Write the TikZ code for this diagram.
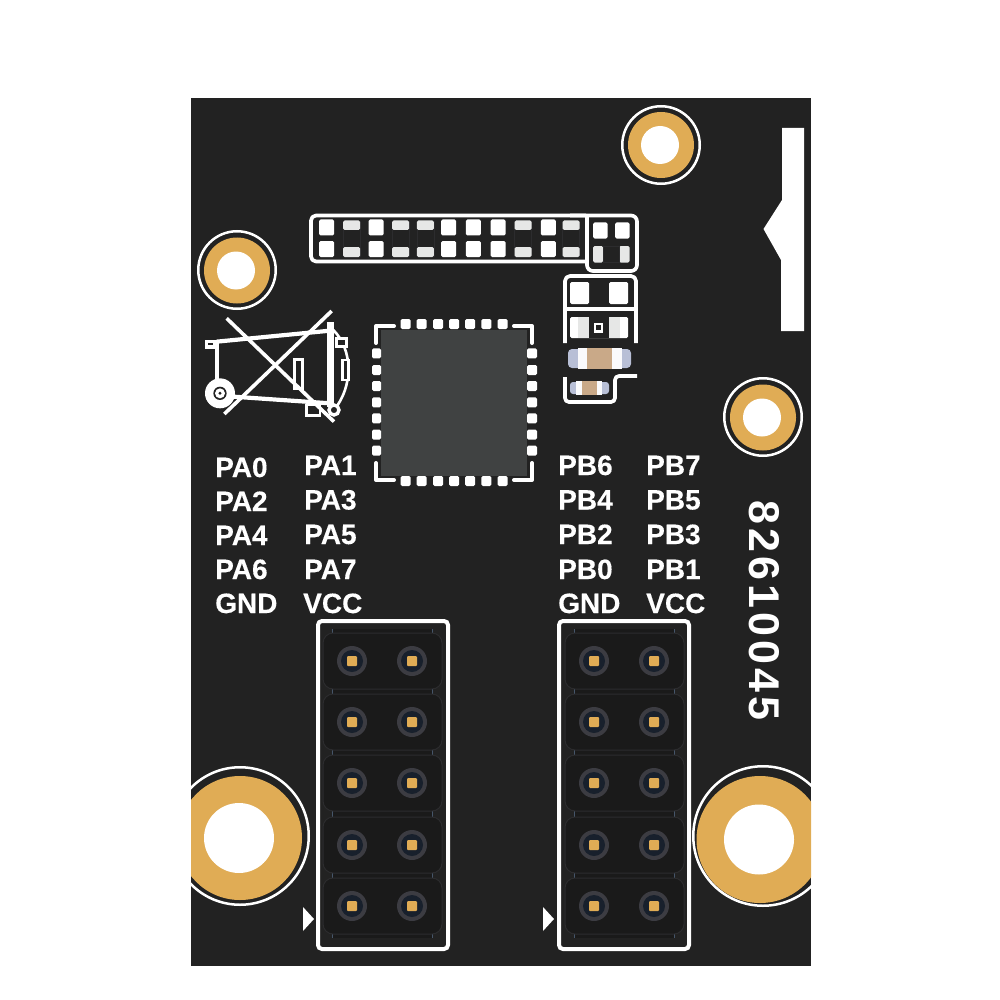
\documentclass[tikz,border=0pt]{standalone}
\usepackage{fontspec}
\setmainfont{Liberation Sans}[BoldFeatures={FakeBold=0.3}]
\newfontfamily\serialfont{Liberation Sans Bold}[LetterSpace=9.5]
\definecolor{board}{HTML}{222222}
\definecolor{gold}{HTML}{E0AC55}
\definecolor{chipbody}{HTML}{404242}
\definecolor{padgray}{HTML}{E6E7E6}
\definecolor{housing}{HTML}{1A1A1A}
\definecolor{housingedge}{HTML}{2C2C2E}
\definecolor{pinring}{HTML}{3C3C42}
\definecolor{pinhole}{HTML}{18202C}
\definecolor{tabblue}{HTML}{46566A}
\definecolor{capblue}{HTML}{B8BFD6}
\definecolor{captan}{HTML}{C9A988}
\tikzset{
  silk/.style={draw=white,line width=3.7pt,line join=round},
  solid pad/.style={fill=white,rounded corners=1.5pt},
  gray pad/.style={fill=padgray,rounded corners=1.5pt},
  label text/.style={anchor=base west,inner sep=0pt,text=white,font=\fontsize{28}{28}\selectfont\bfseries},
}
\newcommand{\mounthole}[8]{% ring x y r, pad x y, gold r, hole r, ring width
  \draw[white,line width=#8pt] (#1,#2) circle (#3pt-#8pt/2);
  \fill[gold] (#4,#5) circle (#6pt);
  \fill[white] (#4-1,#5) circle (#7pt);
}
\newcommand{\headerblock}[2]{% left x of frame, first pin x
  \pgfmathsetmacro{\pa}{#2}\pgfmathsetmacro{\pb}{#2+60}
  \pgfmathsetmacro{\hl}{#2-29}\pgfmathsetmacro{\hr}{#2+90}
  \pgfmathsetmacro{\tl}{#2-20}\pgfmathsetmacro{\tr}{#2+80}
  \fill[housing] (\tl,629) rectangle (\tr,938);
  \draw[tabblue,line width=1pt] (\tl,629) -- (\tl,938) (\tr,629) -- (\tr,938);
  \foreach \r in {661,722,783,845,906}{
    \draw[housingedge,fill=housing,line width=1pt,rounded corners=10pt] (\hl,\r-28) rectangle (\hr,\r+28);
    \foreach \c in {\pa,\pb}{
      \fill[pinring] (\c,\r) circle (15pt);
      \fill[pinhole] (\c,\r) circle (11pt);
      \fill[gold,rounded corners=1pt] (\c-5,\r-5) rectangle (\c+5,\r+5);
    }
  }
  \draw[draw=white,line width=4pt,rounded corners=4pt] (#1,621) rectangle (#1+130,949);
}
\begin{document}
\begin{tikzpicture}[x=1pt,y=-1pt]
\useasboundingbox (0,0) rectangle (1000,1000);
\fill[board] (191,98) rectangle (811,966);

% mounting holes
\begin{scope}
\clip (191,98) rectangle (811,966);
\mounthole{661}{145}{40}{661}{145}{33}{19}{2.5}
\mounthole{237}{270}{40}{237}{270.5}{33}{19}{2.5}
\mounthole{763}{417}{40}{763}{417.5}{33}{19}{2.5}
\mounthole{240}{836}{70}{240}{838}{62}{35}{2.5}
\mounthole{763}{836}{71}{760}{839.5}{63.5}{35}{2.5}
\end{scope}

% notch mark
\fill[white] (782,128) -- (804,128) -- (804,331) -- (781,331) -- (781,260) -- (763.5,229) -- (782,200) -- cycle;

% pin labels
\node[label text] (pa0) at (215,477) {PA0};
\node[label text] (pa2) at (215,511) {PA2};
\node[label text] (pa4) at (215,545) {PA4};
\node[label text] (pa6) at (215,579) {PA6};
\node[label text] (gnda) at (215,613) {GND};
\node[label text] (pa1) at (304,475) {PA1};
\node[label text] (pa3) at (304,509.5) {PA3};
\node[label text] (pa5) at (304,544) {PA5};
\node[label text] (pa7) at (304,579) {PA7};
\node[label text] (vcca) at (303,613) {VCC};
\node[label text] (pb6) at (558,475) {PB6};
\node[label text] (pb4) at (558,509.5) {PB4};
\node[label text] (pb2) at (558,544) {PB2};
\node[label text] (pb0) at (558,579) {PB0};
\node[label text] (gndb) at (558,613) {GND};
\node[label text] (pb7) at (646,475) {PB7};
\node[label text] (pb5) at (646,509.5) {PB5};
\node[label text] (pb3) at (646,544) {PB3};
\node[label text] (pb1) at (646,579) {PB1};
\node[label text] (vccb) at (646,613) {VCC};
\node[rotate=-90,anchor=base west,inner sep=0pt,text=white,font=\serialfont\fontsize{43}{43}\selectfont] (serial) at (749,500) {82610045};

% headers
\headerblock{318}{352}
\headerblock{559}{594}
\fill[white] (303,907) -- (314,919) -- (303,931) -- cycle;
\fill[white] (543,907) -- (554,919) -- (543,931) -- cycle;

% upper pad row
\draw[silk,rounded corners=5pt] (586,215.5) -- (311,215.5) -- (311,261.5) -- (586,261.5);
\draw[silk,rounded corners=6pt] (570,215.5) -- (637,215.5) -- (637,271) -- (587,271) -- (587,215.5);
\foreach \x in {326.7,376,448.7,473.3,498,548.3}{
  \fill[solid pad] (\x-7.5,219.5) rectangle (\x+7.5,235.5);
  \fill[solid pad] (\x-7.5,241) rectangle (\x+7.5,257);
}
\foreach \x in {351.7,400.7,425.3,523,571}{
  \draw[housingedge,line width=.6pt] (\x-8.5,221) rectangle (\x+8.5,256);
  \fill[gray pad] (\x-8.5,220.5) rectangle (\x+8.5,230);
  \fill[gray pad] (\x-8.5,247) rectangle (\x+8.5,257);
}
\fill[solid pad] (593,222.5) rectangle (607.5,238.5);
\fill[solid pad] (615,222.5) rectangle (629.5,238.5);
\fill[gray pad] (593,246) rectangle (603,262.5);
\fill[gray pad] (619,246) rectangle (629.5,262.5);
\draw[housingedge,line width=.6pt] (603,246) rectangle (619,262);

% right-hand parts
\draw[silk,rounded corners=5pt] (565,343) -- (565,276) -- (636,276) -- (636,343);
\draw[silk] (565,309) -- (636,309);
\fill[solid pad] (570,282) rectangle (589,304);
\fill[solid pad] (609,282) rectangle (628,304);
\fill[solid pad] (570,317) rectangle (628,338);
\fill[padgray] (577.5,317) rectangle (588.5,338);
\fill[padgray] (608.5,317) rectangle (620,338);
\fill[board] (588.5,317) rectangle (608.5,338);
\fill[white] (593.5,323) rectangle (603,332.5);
\fill[board] (595.7,325.2) rectangle (600.8,330.3);
\fill[capblue,rounded corners=4pt] (568,349) rectangle (631,368);
\fill[white!93!capblue] (578,347.5) rectangle (622,369);
\fill[captan] (587,347.5) rectangle (612,369);
\fill[capblue,rounded corners=3pt] (570,382) rectangle (609,394);
\fill[white!93!capblue] (576,381) rectangle (602,394.5);
\fill[captan] (582,381) rectangle (597,394.5);
\draw[silk,rounded corners=4pt] (565,377) -- (565,402) -- (615,402) -- (615,376) -- (637,376);

% chip
\fill[chipbody] (381,330) rectangle (527,476);
\foreach \x in {405.7,421.7,438,454,470,486.3,502.7}{
  \fill[solid pad] (\x-5,319) rectangle (\x+5,329);
  \fill[solid pad] (\x-5,476) rectangle (\x+5,486);
}
\foreach \y in {353.3,370,386,402.3,418.3,434.7,450.7}{
  \fill[solid pad] (372,\y-5) rectangle (381,\y+5);
  \fill[solid pad] (527,\y-5) rectangle (537,\y+5);
}
\draw[silk,line width=4pt,line cap=round] (376,343) -- (376,326) -- (394,326);
\draw[silk,line width=4pt,line cap=round] (514,326) -- (532,326) -- (532,343);
\draw[silk,line width=4pt,line cap=round] (376,463) -- (376,480) -- (394,480);
\draw[silk,line width=4pt,line cap=round] (514,480) -- (532,480) -- (532,463);

% crossed-out part symbol
\begin{scope}[shift={(190,300)},x=.3333pt,y=-.3333pt,line join=miter]
\draw[white,line width=4.2pt] (80,125) -- (420,92);
\draw[white,line width=4.2pt] (80,128) -- (80,250);
\draw[white,line width=4.2pt] (130,290) -- (420,310);
\fill[white] (45,120) rectangle (85,147);
\fill[board] (54,129) rectangle (70,136);
\fill[white] (90,280) circle (45);
\fill[board] (90,280) circle (20);
\fill[white] (90,280) circle (15);
\fill[board] (90,280) circle (5);
\fill[white] (410,65) rectangle (431,320);
\draw[white,line width=2.6pt] (430,90) .. controls (490,150) and (490,260) .. (432,330);
\draw[white,line width=3.4pt,fill=board] (432,330) circle (15);
\draw[white,line width=2.8pt,fill=board] (440,115) rectangle (470,140);
\draw[white,line width=2.8pt,fill=board] (457,180) rectangle (476,240);
\draw[white,line width=2.8pt,fill=board] (314,178) rectangle (337,265);
\draw[white,line width=2.8pt,fill=board] (350,315) rectangle (390,347);
\draw[white,line width=3.6pt] (110,55) -- (432,365);
\draw[white,line width=3.6pt] (425,33) -- (103,342);
\end{scope}
\end{tikzpicture}
\end{document}
